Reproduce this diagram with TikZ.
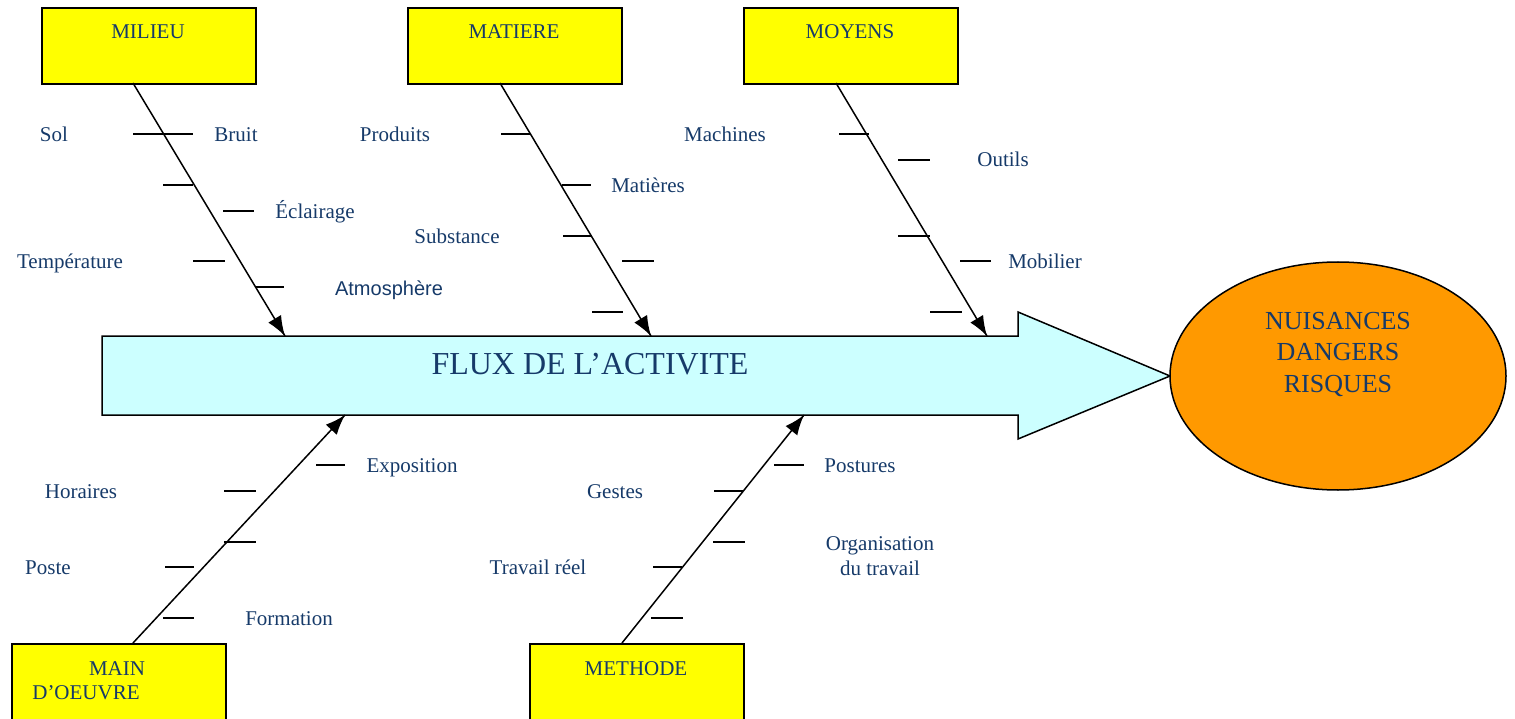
\documentclass[tikz,border=0pt]{standalone}
\usepackage{fontspec}
\setmainfont{Liberation Serif}
\newfontfamily\arialfont{Liberation Sans}
\usetikzlibrary{arrows.meta}
\usetikzlibrary{decorations.markings}
\usetikzlibrary{shapes.geometric}
\usetikzlibrary{positioning}
\definecolor{navy}{RGB}{22,58,105}
\definecolor{boxyellow}{RGB}{255,255,0}
\definecolor{fluxcyan}{RGB}{204,255,255}
\definecolor{effetorange}{RGB}{255,153,0}
\tikzset{bone/.style = {line width = 1.5pt,
                        decoration={markings,
                                    mark=at position 1 with {\arrow{Latex[length=20pt,width=15pt]}}},
                        postaction={decorate}}}
\tikzset{famille/.style = {draw, line width = 2pt, fill = boxyellow, inner sep = 0,
                           minimum width = 214, minimum height = 76, anchor = north west}}
\tikzset{lbl/.style = {text = navy, inner sep = 0, font = \fontsize{21}{25}\selectfont,
                       text height = 17pt, text depth = 1pt}}
\tikzset{tick/.style = {line width = 1.6pt}}

\begin{document}
\begin{tikzpicture}[x = 1pt, y = -1pt]
    \useasboundingbox (0, 0) rectangle (1515, 719);
    % flux
    \draw [line width = 1.5pt, fill = fluxcyan] (102, 336) -- (1018, 336) -- (1018, 312)
        -- (1170, 376) -- (1018, 439) -- (1018, 415) -- (102, 415) -- cycle;
    \node [text = navy, inner sep = 0, font = \fontsize{32}{36}\selectfont] (flux) at (590, 364) {FLUX DE L’ACTIVITE};
    \node [draw, ellipse, line width = 1.5pt, fill = effetorange, minimum width = 336,
           minimum height = 228, inner sep = 0] (effet) at (1338, 376) {};
    \node [text = navy, align = center, inner sep = 0, font = \fontsize{26}{31.5}\selectfont]
        (effettxt) at (1338, 354) {NUISANCES\\DANGERS\\RISQUES};
    % familles
    \node [famille] (milieu) at (41, 7) {};
    \node [famille] (matiere) at (407, 7) {};
    \node [famille] (moyens) at (743, 7) {};
    \node [famille] (main) at (11, 643) {};
    \node [famille, minimum height = 80] (methode) at (529, 643) {};
    \node [lbl] (t-milieu) at (148, 31) {MILIEU};
    \node [lbl] (t-matiere) at (514, 31) {MATIERE};
    \node [lbl] (t-moyens) at (850, 31) {MOYENS};
    \node [lbl] (t-main) at (117, 667) {MAIN};
    \node [lbl] (t-oeuvre) at (86, 691) {D’OEUVRE};
    \node [lbl] (t-methode) at (636, 667) {METHODE};
    % aretes
    \coordinate (milieu-a) at (133, 83);
    \coordinate (milieu-b) at (285, 336);
    \coordinate (matiere-a) at (500, 83);
    \coordinate (matiere-b) at (651, 336);
    \coordinate (moyens-a) at (836, 83);
    \coordinate (moyens-b) at (987, 336);
    \coordinate (main-a) at (133, 643);
    \coordinate (main-b) at (345, 415);
    \coordinate (methode-a) at (622, 643);
    \coordinate (methode-b) at (804, 415);
    \foreach \nm in {milieu, matiere, moyens, main, methode}
        \draw [bone] (\nm-a) -- (\nm-b);
    \foreach \xa/\xb/\yy in {133/193/134, 163/193/185, 223/254/211, 193/225/261, 255/284/287,
                             501/530/134, 562/591/185, 563/592/236, 622/654/261, 592/623/312,
                             839/869/134, 898/930/160, 898/930/236, 960/991/261, 930/962/312,
                             316/345/465, 224/256/491, 224/256/542, 165/194/567, 163/194/618,
                             774/804/465, 714/743/491, 713/745/542, 653/682/567, 651/683/618}
        \draw [tick] (\xa, \yy) -- (\xb, \yy);
    % causes
    \foreach \nm/\xx/\yy/\txt in {sol/54/134/Sol, bruit/236/134/Bruit, eclairage/315/211/Éclairage,
                                  temperature/70/261/Température,
                                  produits/395/134/Produits, matieres/648/185/Matières,
                                  substance/457/236/Substance,
                                  machines/725/134/Machines, outils/1003/159/Outils,
                                  mobilier/1045/261/Mobilier,
                                  exposition/412/464/Exposition, horaires/81/490/Horaires,
                                  poste/48/566/Poste, formation/289/617/Formation,
                                  postures/860/464/Postures, gestes/615/490/Gestes,
                                  travail/538/566/Travail réel}
        \node [lbl] (\nm) at (\xx, \yy) {\txt};
    \node [lbl, font = \arialfont\fontsize{20}{24}\selectfont] (atmosphere) at (389, 287) {Atmosphère};
    \node [lbl, align = center, text height = {}, text depth = {}] (organisation) at (880, 556) {Organisation\\du travail};
\end{tikzpicture}
\end{document}
